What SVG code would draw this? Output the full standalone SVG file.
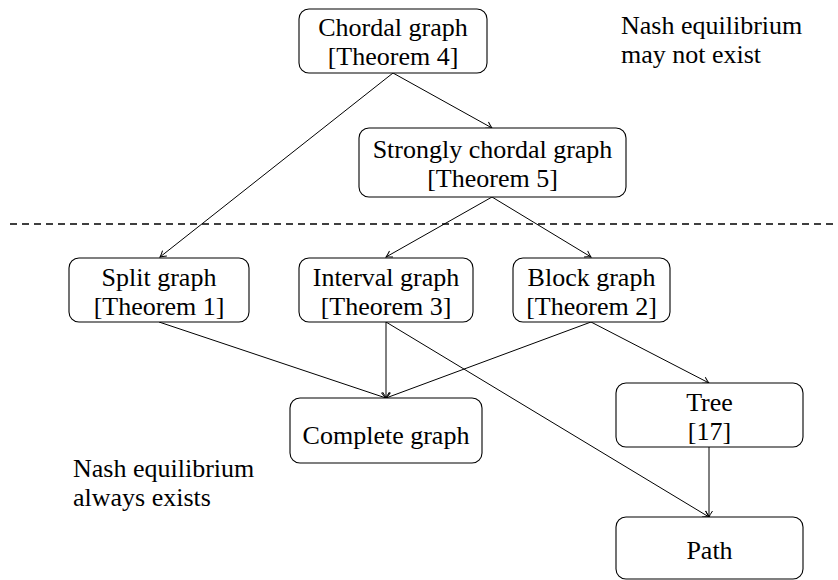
<svg xmlns="http://www.w3.org/2000/svg" width="838" height="580" viewBox="0 0 838 580">
<defs>
<style>
.box{fill:#fff;stroke:#000;stroke-width:1.1}
text{font-family:"Liberation Serif","DejaVu Serif","Times New Roman",serif;font-size:26px;fill:#000}
.t{text-anchor:middle}
.e{fill:none;stroke:#000;stroke-width:1}
</style>
<marker id="ah" markerUnits="userSpaceOnUse" markerWidth="12" markerHeight="12" viewBox="-8 -6 10 12" refX="0" refY="0" orient="auto">
<path d="M-6,-3.5 Q-2,-0.8 0,0 Q-2,0.8 -6,3.5" fill="none" stroke="#000" stroke-width="1"/>
</marker>
</defs>
<rect width="838" height="580" fill="#fff"/>
<line x1="10" y1="224" x2="838" y2="224" stroke="#000" stroke-width="1.4" stroke-dasharray="7,5"/>
<g id="connectors">
<line class="e" x1="393" y1="73" x2="160" y2="257" marker-end="url(#ah)"/>
<line class="e" x1="393" y1="73" x2="492" y2="128" marker-end="url(#ah)"/>
<line class="e" x1="492" y1="197" x2="386" y2="257" marker-end="url(#ah)"/>
<line class="e" x1="492" y1="197" x2="591" y2="257" marker-end="url(#ah)"/>
<line class="e" x1="159" y1="322" x2="386" y2="398" marker-end="url(#ah)"/>
<line class="e" x1="386" y1="322" x2="386" y2="398" marker-end="url(#ah)"/>
<line class="e" x1="591" y1="322" x2="386" y2="398" marker-end="url(#ah)"/>
<line class="e" x1="591" y1="322" x2="709" y2="383" marker-end="url(#ah)"/>
<line class="e" x1="386" y1="322" x2="709" y2="517" marker-end="url(#ah)"/>
<line class="e" x1="709" y1="447" x2="709" y2="517" marker-end="url(#ah)"/>
</g>
<g id="chordal">
<rect class="box" x="299" y="9" width="188" height="64" rx="10"/>
<text class="t" x="393" y="36">Chordal graph</text>
<text class="t" x="393" y="65">[Theorem 4]</text>
</g>
<g id="strongly">
<rect class="box" x="359" y="128" width="267" height="69" rx="10"/>
<text class="t" x="492.5" y="158">Strongly chordal graph</text>
<text class="t" x="492.5" y="187">[Theorem 5]</text>
</g>
<g id="split">
<rect class="box" x="69" y="258" width="180" height="64" rx="10"/>
<text class="t" x="159" y="286">Split graph</text>
<text class="t" x="159" y="315">[Theorem 1]</text>
</g>
<g id="interval">
<rect class="box" x="299" y="258" width="174" height="64" rx="10"/>
<text class="t" x="386" y="286">Interval graph</text>
<text class="t" x="386" y="315">[Theorem 3]</text>
</g>
<g id="block">
<rect class="box" x="513" y="258" width="157" height="64" rx="10"/>
<text class="t" x="591.5" y="286">Block graph</text>
<text class="t" x="591.5" y="315">[Theorem 2]</text>
</g>
<g id="complete">
<rect class="box" x="290" y="398" width="192" height="65" rx="10"/>
<text class="t" x="386" y="444">Complete graph</text>
</g>
<g id="tree">
<rect class="box" x="616" y="383" width="187" height="64" rx="10"/>
<text class="t" x="709.5" y="411">Tree</text>
<text class="t" x="709.5" y="440">[17]</text>
</g>
<g id="path">
<rect class="box" x="616" y="517" width="187" height="62" rx="10"/>
<text class="t" x="709.5" y="559">Path</text>
</g>
<g id="label-top">
<text x="621" y="34">Nash equilibrium</text>
<text x="621" y="63">may not exist</text>
</g>
<g id="label-bottom">
<text x="73" y="477">Nash equilibrium</text>
<text x="73" y="506">always exists</text>
</g>
</svg>
